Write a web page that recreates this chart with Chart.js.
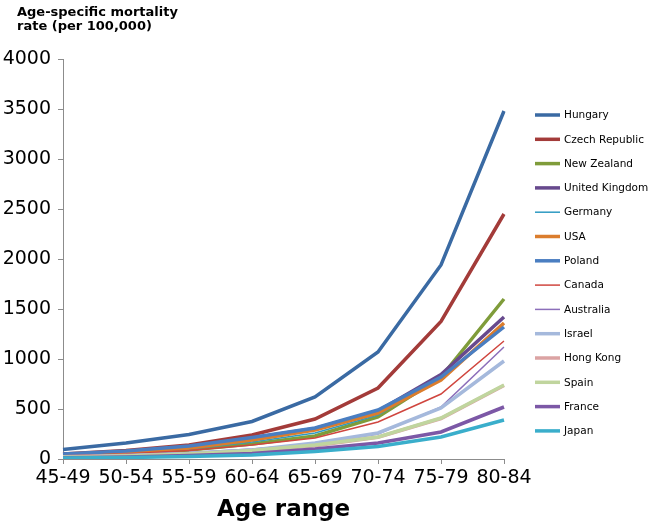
<!DOCTYPE html>
<html>
<head>
<meta charset="utf-8">
<script src="https://cdn.jsdelivr.net/npm/chart.js@4/dist/chart.umd.min.js"></script>
<style>
  html, body { margin: 0; padding: 0; background: #fff; }
  #wrap { width: 651px; height: 524px; }
</style>
</head>
<body>
<div id="wrap"><canvas id="chart"></canvas></div>
<script>
const ageGroups = ['45-49', '50-54', '55-59', '60-64', '65-69', '70-74', '75-79', '80-84'];
const yTicks = [0, 500, 1000, 1500, 2000, 2500, 3000, 3500, 4000];
const yTitleLines = ['Age-specific mortality', 'rate (per 100,000)'];

const hungary = [95, 160, 245, 375, 620, 1070, 1940, 3480];
const czechRepublic = [50, 85, 140, 240, 400, 710, 1375, 2450];
const newZealand = [35, 55, 90, 150, 230, 420, 820, 1600];
const unitedKingdom = [45, 72, 120, 210, 305, 480, 845, 1420];
const germany = [38, 60, 100, 170, 260, 440, 800, 1350];
const usa = [40, 65, 110, 190, 290, 460, 790, 1360];
const poland = [50, 80, 130, 215, 310, 490, 820, 1320];
const canada = [32, 50, 85, 140, 210, 370, 650, 1180];
const australia = [25, 40, 65, 100, 150, 250, 520, 1120];
const israel = [22, 35, 55, 90, 160, 260, 510, 980];
const hongKong = [18, 30, 48, 80, 132, 218, 405, 735];
const spain = [18, 30, 50, 85, 140, 220, 410, 740];
const france = [12, 20, 35, 55, 100, 160, 270, 520];
const japan = [10, 15, 25, 40, 75, 125, 220, 390];

const FONT = '"DejaVu Sans", Verdana, sans-serif';
const AXIS_GREY = '#8c8c8c';

let seriesCount = 0;

// later series are painted over earlier ones, like Excel does
function series(label, data, color, width) {
    seriesCount++;
    return {
        label: label,
        data: data,
        borderColor: color,
        backgroundColor: color,
        borderWidth: width,
        pointRadius: 0,
        pointHoverRadius: 0,
        tension: 0,
        fill: false,
        order: 100 - seriesCount
    };
}

// y axis caption sits above the axis
const topCaption = {
    id: 'topCaption',
    afterDraw(chart) {
        const ctx = chart.ctx;
        ctx.save();
        ctx.font = 'bold 13px ' + FONT;
        ctx.textBaseline = 'alphabetic';
        ctx.fillStyle = '#000';
        yTitleLines.forEach((line, i) => {
            ctx.fillText(line, 17, 15.5 + i * 14.5);
        });
        ctx.restore();
    }
};

// legend on the right, built from the datasets
const sideLegend = {
    id: 'sideLegend',
    afterDraw(chart) {
        const ctx = chart.ctx;
        ctx.save();
        ctx.font = '10.5px ' + FONT;
        ctx.textBaseline = 'middle';
        ctx.fillStyle = '#000';
        chart.data.datasets.forEach((ds, i) => {
            const y = 115 + i * 24.3;
            ctx.strokeStyle = ds.borderColor;
            ctx.lineWidth = ds.borderWidth;
            ctx.beginPath();
            ctx.moveTo(535, y);
            ctx.lineTo(560, y);
            ctx.stroke();
            ctx.fillText(ds.label, 564, y + 0.5);
        });
        ctx.restore();
    }
};

new Chart(document.querySelector('#chart'), {
    type: 'line',
    data: {
        labels: ageGroups,
        datasets: [
            series('Hungary', hungary, '#3a6aa3', 3.5),
            series('Czech Republic', czechRepublic, '#a33b39', 3.5),
            series('New Zealand', newZealand, '#7f9c3a', 3.5),
            series('United Kingdom', unitedKingdom, '#67498d', 3.5),
            series('Germany', germany, '#2e9ac2', 1.5),
            series('USA', usa, '#db7d2d', 3.5),
            series('Poland', poland, '#4a7ec1', 3.5),
            series('Canada', canada, '#d0463f', 1.5),
            series('Australia', australia, '#8c6fba', 1.5),
            series('Israel', israel, '#a5b9dc', 3.5),
            series('Hong Kong', hongKong, '#dba3a3', 3.5),
            series('Spain', spain, '#c0d59e', 3.5),
            series('France', france, '#7c58a6', 3.5),
            series('Japan', japan, '#3aaecb', 3.5)
        ]
    },
    options: {
        responsive: true,
        maintainAspectRatio: false,
        animation: false,
        events: [],
        layout: {
            padding: { left: 0, right: 147, top: 59, bottom: 0 }
        },
        scales: {
            x: {
                offset: false,
                grid: {
                    drawOnChartArea: false,
                    drawTicks: true,
                    tickLength: 5,
                    color: AXIS_GREY
                },
                border: { color: AXIS_GREY, width: 1 },
                ticks: {
                    color: '#000',
                    font: { family: FONT, size: 19 },
                    padding: 3,
                    maxRotation: 0,
                    autoSkip: false
                },
                title: {
                    display: true,
                    text: 'Age range',
                    color: '#000',
                    font: { family: FONT, size: 23, weight: 'bold' },
                    padding: { top: 2, bottom: 0 }
                },
                afterFit: (scale) => { scale.height = 65; }
            },
            y: {
                min: 0,
                max: 4000,
                afterBuildTicks: (scale) => {
                    scale.ticks = yTicks.map(v => ({ value: v }));
                },
                grid: {
                    drawOnChartArea: false,
                    drawTicks: true,
                    tickLength: 5,
                    color: AXIS_GREY
                },
                border: { color: AXIS_GREY, width: 1 },
                ticks: {
                    color: '#000',
                    font: { family: FONT, size: 19 },
                    padding: 7,
                    callback: (value) => String(value)
                },
                afterFit: (scale) => { scale.width = 63; }
            }
        },
        plugins: {
            legend: { display: false },
            tooltip: { enabled: false }
        }
    },
    plugins: [topCaption, sideLegend]
});
</script>
</body>
</html>
